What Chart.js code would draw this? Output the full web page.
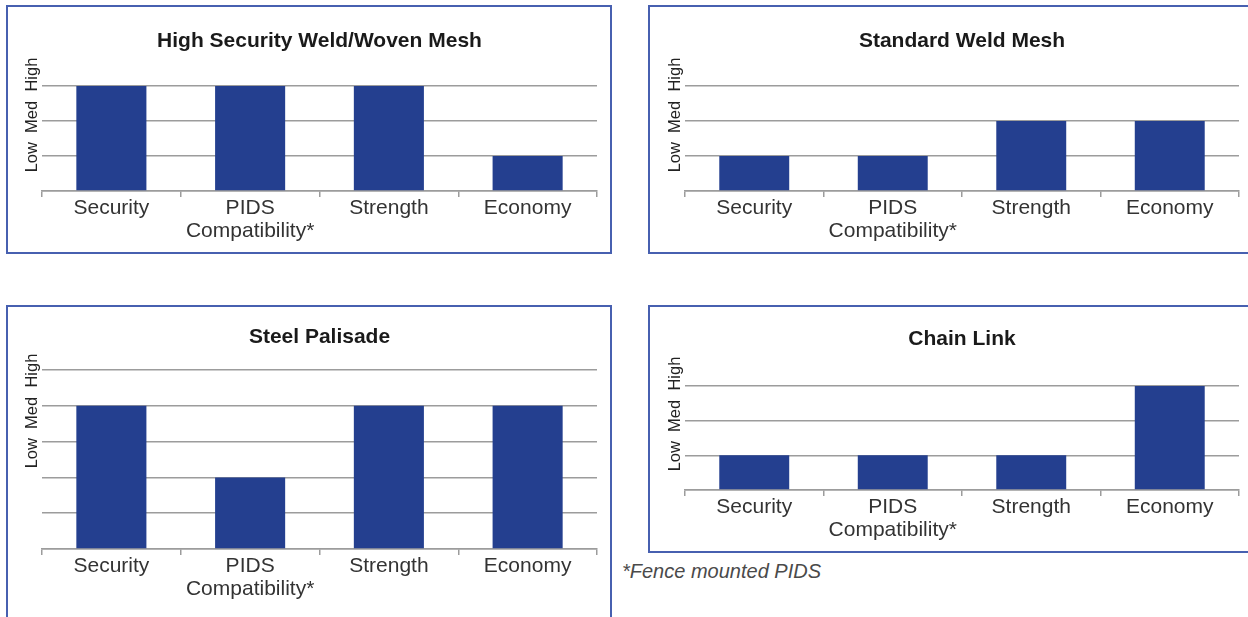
<!DOCTYPE html>
<html>
<head>
<meta charset="utf-8">
<script src="https://cdn.jsdelivr.net/npm/chart.js@4.4.1/dist/chart.umd.min.js"></script>
<style>
  body { margin: 0; background: #fff; width: 1248px; height: 617px; overflow: hidden; position: relative; font-family: "Liberation Sans", Arial, sans-serif; }
  .panel { position: absolute; box-sizing: border-box; border: 2px solid #4760b0; }
  canvas { position: absolute; }
  .note { position: absolute; left: 622px; top: 560px; font-style: italic; font-size: 20px; color: #4a4a4a; }
</style>
</head>
<body>
<div class="panel" style="left:6px;top:5px;width:606px;height:249px"></div>
<div class="panel" style="left:648px;top:5px;width:620px;height:249px"></div>
<div class="panel" style="left:6px;top:305px;width:606px;height:400px"></div>
<div class="panel" style="left:648px;top:305px;width:620px;height:248px"></div>

<canvas id="highSecurityChart" style="left:7px;top:6px" width="604" height="247"></canvas>
<canvas id="standardWeldChart" style="left:649px;top:6px" width="599" height="247"></canvas>
<canvas id="palisadeChart" style="left:7px;top:306px" width="604" height="311"></canvas>
<canvas id="chainLinkChart" style="left:649px;top:306px" width="599" height="246"></canvas>

<div class="note">*Fence mounted PIDS</div>

<script>
const categories = ['Security', ['PIDS', 'Compatibility*'], 'Strength', 'Economy']
const levelText = 'Low  Med  High'

const highSecurityTitle = 'High Security Weld/Woven Mesh'
const highSecurityValues = [3, 3, 3, 1]

const standardWeldTitle = 'Standard Weld Mesh'
const standardWeldValues = [1, 1, 2, 2]

const palisadeTitle = 'Steel Palisade'
const palisadeValues = [4, 2, 4, 4]

const chainLinkTitle = 'Chain Link'
const chainLinkValues = [1, 1, 1, 3]

const barColor = '#243f8f'
const gridColor = '#9c9c9c'

// draws the rotated "Low Med High" label left of the plot
const levelTitlePlugin = {
  id: 'levelTitle',
  afterDraw(chart, args, opts) {
    const ctx = chart.ctx
    ctx.save()
    ctx.translate(chart.chartArea.left - 10, opts.y)
    ctx.rotate(-Math.PI / 2)
    ctx.font = '16.5px "Liberation Sans", Arial, sans-serif'
    ctx.fillStyle = '#222'
    ctx.textAlign = 'center'
    ctx.textBaseline = 'middle'
    ctx.fillText(levelText, 0, 0)
    ctx.restore()
  }
}

function makeChart(id, title, values, yMax, box) {
  return new Chart(document.getElementById(id), {
    type: 'bar',
    data: {
      labels: categories,
      datasets: [{
        data: values,
        backgroundColor: barColor,
        barPercentage: 0.505,
        categoryPercentage: 1
      }]
    },
    options: {
      responsive: false,
      animation: false,
      layout: {
        padding: { left: box.left, right: box.right, top: 0, bottom: 0 }
      },
      plugins: {
        legend: { display: false },
        tooltip: { enabled: false },
        title: {
          display: true,
          text: title,
          color: '#1a1a1a',
          font: { family: '"Liberation Sans", Arial, sans-serif', size: 21, weight: 'bold', lineHeight: 1.2 },
          padding: { top: box.titleTop, bottom: box.titleBottom }
        },
        levelTitle: { y: box.levelY }
      },
      scales: {
        x: {
          grid: {
            display: true,
            offset: true,
            drawOnChartArea: false,
            drawTicks: true,
            tickLength: 6,
            color: gridColor,
            lineWidth: 1.5
          },
          border: { display: true, color: gridColor, width: 1.5 },
          ticks: {
            color: '#333',
            padding: 0,
            maxRotation: 0,
            autoSkip: false,
            font: { family: '"Liberation Sans", Arial, sans-serif', size: 21, lineHeight: 1.1 }
          },
          afterFit: (scale) => { scale.height = box.axisHeight }
        },
        y: {
          min: 0,
          max: yMax,
          ticks: { display: false, stepSize: 1 },
          grid: { color: gridColor, lineWidth: 1.5, drawTicks: false },
          border: { display: false },
          afterFit: (scale) => { scale.width = 0 }
        }
      }
    },
    plugins: [levelTitlePlugin]
  })
}

makeChart('highSecurityChart', highSecurityTitle, highSecurityValues, 3,
  { left: 35, right: 14, titleTop: 22.4, titleBottom: 32.4, axisHeight: 62, levelY: 109 })
makeChart('standardWeldChart', standardWeldTitle, standardWeldValues, 3,
  { left: 36, right: 9, titleTop: 22.4, titleBottom: 32.4, axisHeight: 62, levelY: 109 })
makeChart('palisadeChart', palisadeTitle, palisadeValues, 5,
  { left: 35, right: 14, titleTop: 18.4, titleBottom: 20.4, axisHeight: 68, levelY: 105 })
makeChart('chainLinkChart', chainLinkTitle, chainLinkValues, 3,
  { left: 36, right: 9, titleTop: 20.9, titleBottom: 33.9, axisHeight: 62, levelY: 108 })
</script>
</body>
</html>
